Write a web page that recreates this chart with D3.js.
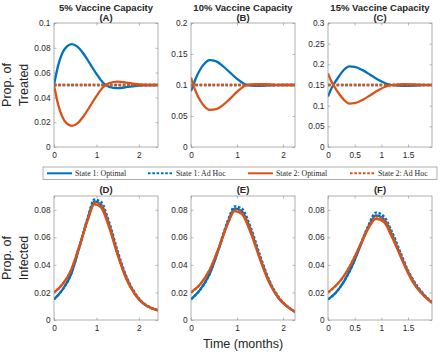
<!DOCTYPE html>
<html lang="en">

<head>
    <meta charset="UTF-8">
    <title>Vaccine capacity</title>
    <script src="https://d3js.org/d3.v7.min.js"></script>
    <style>
        body { margin: 0; background: #fff; }
        text { font-family: "Liberation Sans", Arial, sans-serif; fill: #262626; }
    </style>
</head>

<body>
    <script>
        // time points (months)
        var tA = [0, 0.1, 0.2, 0.3, 0.42, 0.55, 0.7, 0.85, 1.0, 1.15, 1.3, 1.5, 1.7, 1.9, 2.1, 2.45];
        var tB = [0, 0.05, 0.1, 0.2, 0.3, 0.4, 0.55, 0.7, 0.85, 1.0, 1.2, 1.4, 1.6, 1.8, 2.0, 2.26];
        var tC = [0, 0.05, 0.1, 0.2, 0.3, 0.4, 0.5, 0.65, 0.8, 0.95, 1.1, 1.25, 1.4, 1.6, 1.8, 1.95];
        var tD = [0, 0.2, 0.4, 0.6, 0.8, 0.95, 1.1, 1.3, 1.5, 1.7, 1.9, 2.1, 2.3, 2.45];
        var tE = [0, 0.2, 0.4, 0.6, 0.8, 0.95, 1.1, 1.3, 1.5, 1.7, 1.9, 2.1, 2.26];
        var tF = [0, 0.15, 0.3, 0.45, 0.6, 0.75, 0.9, 1.05, 1.2, 1.35, 1.5, 1.65, 1.8, 1.95];

        // treated proportions
        var A_s1opt = [0.05, 0.066, 0.076, 0.081, 0.083, 0.081, 0.075, 0.067, 0.059, 0.052, 0.0485, 0.0475, 0.0482, 0.0492, 0.0498, 0.05];
        var A_s2opt = [0.05, 0.034, 0.024, 0.019, 0.017, 0.019, 0.025, 0.033, 0.041, 0.048, 0.0515, 0.0527, 0.052, 0.0508, 0.0502, 0.05];
        var A_s1adh = [0.05, 0.05, 0.05, 0.05, 0.05, 0.05, 0.05, 0.05, 0.05, 0.05, 0.05, 0.05, 0.05, 0.05, 0.05, 0.05];
        var A_s2adh = [0.05, 0.05, 0.05, 0.05, 0.05, 0.05, 0.05, 0.05, 0.05, 0.05, 0.05, 0.05, 0.05, 0.05, 0.05, 0.05];

        var B_s1opt = [0.09, 0.1, 0.11, 0.125, 0.135, 0.14, 0.138, 0.13, 0.12, 0.11, 0.1005, 0.0985, 0.099, 0.0995, 0.1, 0.1];
        var B_s2opt = [0.112, 0.1, 0.09, 0.075, 0.065, 0.06, 0.061, 0.068, 0.078, 0.089, 0.0995, 0.1015, 0.1012, 0.1005, 0.1, 0.1];
        var B_s1adh = [0.1, 0.1, 0.1, 0.1, 0.1, 0.1, 0.1, 0.1, 0.1, 0.1, 0.1, 0.1, 0.1, 0.1, 0.1, 0.1];
        var B_s2adh = [0.1, 0.1, 0.1, 0.1, 0.1, 0.1, 0.1, 0.1, 0.1, 0.1, 0.1, 0.1, 0.1, 0.1, 0.1, 0.1];

        var C_s1opt = [0.122, 0.138, 0.15, 0.17, 0.187, 0.195, 0.194, 0.186, 0.174, 0.162, 0.153, 0.149, 0.148, 0.1485, 0.1495, 0.15];
        var C_s2opt = [0.178, 0.162, 0.15, 0.13, 0.114, 0.105, 0.106, 0.114, 0.126, 0.138, 0.147, 0.1505, 0.152, 0.1515, 0.1505, 0.15];
        var C_s1adh = [0.15, 0.15, 0.15, 0.15, 0.15, 0.15, 0.15, 0.15, 0.15, 0.15, 0.15, 0.15, 0.15, 0.15, 0.15, 0.15];
        var C_s2adh = [0.15, 0.15, 0.15, 0.15, 0.15, 0.15, 0.15, 0.15, 0.15, 0.15, 0.15, 0.15, 0.15, 0.15, 0.15, 0.15];

        // infected proportions
        var D_s1opt = [0.015, 0.022, 0.033, 0.053, 0.074, 0.086, 0.084, 0.069, 0.048, 0.031, 0.019, 0.012, 0.0085, 0.007];
        var D_s2opt = [0.02, 0.026, 0.036, 0.054, 0.073, 0.084, 0.082, 0.067, 0.047, 0.03, 0.019, 0.012, 0.0085, 0.007];
        var D_s1adh = [0.015, 0.022, 0.033, 0.053, 0.075, 0.0875, 0.086, 0.071, 0.05, 0.032, 0.02, 0.0125, 0.0088, 0.0072];
        var D_s2adh = [0.02, 0.026, 0.036, 0.054, 0.073, 0.085, 0.084, 0.069, 0.048, 0.031, 0.0195, 0.0122, 0.0086, 0.0071];

        var E_s1opt = [0.015, 0.022, 0.033, 0.051, 0.071, 0.081, 0.079, 0.065, 0.045, 0.028, 0.016, 0.0095, 0.006];
        var E_s2opt = [0.02, 0.026, 0.036, 0.052, 0.07, 0.079, 0.077, 0.063, 0.044, 0.027, 0.016, 0.0095, 0.006];
        var E_s1adh = [0.015, 0.022, 0.033, 0.052, 0.072, 0.0825, 0.081, 0.067, 0.047, 0.029, 0.017, 0.0098, 0.0062];
        var E_s2adh = [0.02, 0.026, 0.036, 0.052, 0.07, 0.08, 0.078, 0.065, 0.045, 0.028, 0.0165, 0.0096, 0.006];

        var F_s1opt = [0.015, 0.02, 0.028, 0.039, 0.053, 0.067, 0.076, 0.073, 0.062, 0.048, 0.035, 0.025, 0.018, 0.0125];
        var F_s2opt = [0.02, 0.025, 0.032, 0.042, 0.054, 0.066, 0.0735, 0.071, 0.06, 0.047, 0.034, 0.024, 0.0175, 0.0125];
        var F_s1adh = [0.015, 0.02, 0.028, 0.039, 0.054, 0.068, 0.078, 0.075, 0.064, 0.05, 0.036, 0.026, 0.0185, 0.013];
        var F_s2adh = [0.02, 0.025, 0.032, 0.042, 0.054, 0.067, 0.075, 0.073, 0.062, 0.048, 0.035, 0.025, 0.018, 0.0128];

        // axis limits and ticks
        var xMax = [2.45, 2.26, 1.95];
        var xTicks = [[0, 1, 2], [0, 1, 2], [0, 0.5, 1, 1.5]];
        var yMaxTop = [0.1, 0.2, 0.3];
        var yTicksTop = [[0, 0.02, 0.04, 0.06, 0.08, 0.1], [0, 0.05, 0.1, 0.15, 0.2], [0, 0.05, 0.1, 0.15, 0.2, 0.25, 0.3]];
        var yMaxBottom = 0.09;
        var yTicksBottom = [0, 0.02, 0.04, 0.06, 0.08];

        var titles = ["5% Vaccine Capacity", "10% Vaccine Capacity", "15% Vaccine Capacity"];
        var lettersTop = ["(A)", "(B)", "(C)"];
        var lettersBottom = ["(D)", "(E)", "(F)"];
        var legendLabels = ["State 1: Optimal", "State 1: Ad Hoc", "State 2: Optimal", "State 2: Ad Hoc"];

        var blue = "#0072BD", orange = "#D95319";
        var seriesStyle = [
            { color: blue, dash: null },
            { color: blue, dash: "2.6,1.7" },
            { color: orange, dash: null },
            { color: orange, dash: "2.6,1.7" }
        ];

        var topData = [
            { t: tA, s: [A_s1opt, A_s1adh, A_s2opt, A_s2adh] },
            { t: tB, s: [B_s1opt, B_s1adh, B_s2opt, B_s2adh] },
            { t: tC, s: [C_s1opt, C_s1adh, C_s2opt, C_s2adh] }
        ];
        var bottomData = [
            { t: tD, s: [D_s1opt, D_s1adh, D_s2opt, D_s2adh] },
            { t: tE, s: [E_s1opt, E_s1adh, E_s2opt, E_s2adh] },
            { t: tF, s: [F_s1opt, F_s1adh, F_s2opt, F_s2adh] }
        ];

        var W = 440, H = 352;
        var panelLeft = [54, 191, 328], pw = 104;
        var topRow = { y0: 23, y1: 147 }, bottomRow = { y0: 196, y1: 320 };

        var svg = d3.select("body").append("svg")
            .attr("width", W)
            .attr("height", H);

        function drawPanel(px, row, xm, xt, ym, yt, data) {
            var g = svg.append("g").attr("transform", "translate(" + px + "," + row.y0 + ")");
            var ph = row.y1 - row.y0;
            var x = d3.scaleLinear().domain([0, xm]).range([0, pw]);
            var y = d3.scaleLinear().domain([0, ym]).range([ph, 0]);

            // clip so lines stay in the box
            var id = "clip" + px + "_" + row.y0;
            g.append("clipPath").attr("id", id)
                .append("rect").attr("width", pw).attr("height", ph);

            var fmt = function (d) { return String(d); };
            var ax = [
                { a: d3.axisBottom(x).tickValues(xt).tickFormat(fmt), tr: "translate(0," + ph + ")", pad: 5.5 },
                { a: d3.axisTop(x).tickValues(xt).tickFormat(""), tr: "", pad: 4 },
                { a: d3.axisLeft(y).tickValues(yt).tickFormat(fmt), tr: "", pad: 3.5 },
                { a: d3.axisRight(y).tickValues(yt).tickFormat(""), tr: "translate(" + pw + ",0)", pad: 4 }
            ];
            ax.forEach(function (o) {
                var ag = g.append("g").attr("transform", o.tr)
                    .call(o.a.tickSizeInner(-2.5).tickSizeOuter(0).tickPadding(o.pad));
                ag.select(".domain").remove();
                ag.selectAll("line").attr("stroke", "#8c8c8c").attr("stroke-width", 0.6);
                ag.selectAll("text").attr("font-size", 8.3).attr("fill", "#262626")
                    .style("font-family", "'Liberation Sans', Arial, sans-serif");
            });

            var line = d3.line()
                .x(function (d) { return x(d[0]); })
                .y(function (d) { return y(d[1]); })
                .curve(d3.curveMonotoneX);

            var lg = g.append("g").attr("clip-path", "url(#" + id + ")");
            data.s.forEach(function (vals, i) {
                var pts = data.t.map(function (tt, k) { return [tt, vals[k]]; });
                lg.append("path")
                    .datum(pts)
                    .attr("d", line)
                    .attr("fill", "none")
                    .attr("stroke", seriesStyle[i].color)
                    .attr("stroke-width", 2.3)
                    .attr("stroke-dasharray", seriesStyle[i].dash);
            });

            g.append("rect")
                .attr("width", pw).attr("height", ph)
                .attr("fill", "none")
                .attr("stroke", "#8c8c8c")
                .attr("stroke-width", 0.7);
        }

        for (var i = 0; i < 3; i++) {
            drawPanel(panelLeft[i], topRow, xMax[i], xTicks[i], yMaxTop[i], yTicksTop[i], topData[i]);
            drawPanel(panelLeft[i], bottomRow, xMax[i], xTicks[i], yMaxBottom, yTicksBottom, bottomData[i]);

            var cx = panelLeft[i] + pw / 2;
            svg.append("text").attr("x", cx).attr("y", 11)
                .attr("text-anchor", "middle").attr("font-size", 9.5).attr("font-weight", "bold")
                .attr("fill", "#000").text(titles[i]);
            svg.append("text").attr("x", cx).attr("y", 20.8)
                .attr("text-anchor", "middle").attr("font-size", 9.5).attr("font-weight", "bold")
                .attr("fill", "#000").text(lettersTop[i]);
            svg.append("text").attr("x", cx).attr("y", 192.8)
                .attr("text-anchor", "middle").attr("font-size", 9.5).attr("font-weight", "bold")
                .attr("fill", "#000").text(lettersBottom[i]);
        }

        // y axis labels
        function yLabel(cy, l1, l2) {
            var t = svg.append("text")
                .attr("transform", "translate(0," + cy + ") rotate(-90)")
                .attr("text-anchor", "middle").attr("font-size", 12.5).attr("fill", "#262626");
            t.append("tspan").attr("x", 0).attr("y", 11).text(l1);
            t.append("tspan").attr("x", 0).attr("y", 27.5).text(l2);
        }
        yLabel((topRow.y0 + topRow.y1) / 2, "Prop. of", "Treated");
        yLabel((bottomRow.y0 + bottomRow.y1) / 2, "Prop. of", "Infected");

        // x axis label
        svg.append("text").attr("x", panelLeft[1] + pw / 2).attr("y", 348)
            .attr("text-anchor", "middle").attr("font-size", 12.5).attr("fill", "#262626")
            .text("Time (months)");

        // legend
        var leg = svg.append("g");
        leg.append("rect").attr("x", 43).attr("y", 167).attr("width", 394).attr("height", 12.5)
            .attr("fill", "#fff").attr("stroke", "#8c8c8c").attr("stroke-width", 0.7);
        var legX = [47, 148, 248, 350];
        legendLabels.forEach(function (lab, i) {
            leg.append("line")
                .attr("x1", legX[i]).attr("x2", legX[i] + 25)
                .attr("y1", 173.3).attr("y2", 173.3)
                .attr("stroke", seriesStyle[i].color)
                .attr("stroke-width", 2)
                .attr("stroke-dasharray", seriesStyle[i].dash);
            leg.append("text")
                .attr("x", legX[i] + 28).attr("y", 176)
                .attr("font-size", 7.8)
                .style("font-family", "'Liberation Serif', 'Times New Roman', serif")
                .attr("fill", "#000")
                .text(lab);
        });
    </script>
</body>

</html>
